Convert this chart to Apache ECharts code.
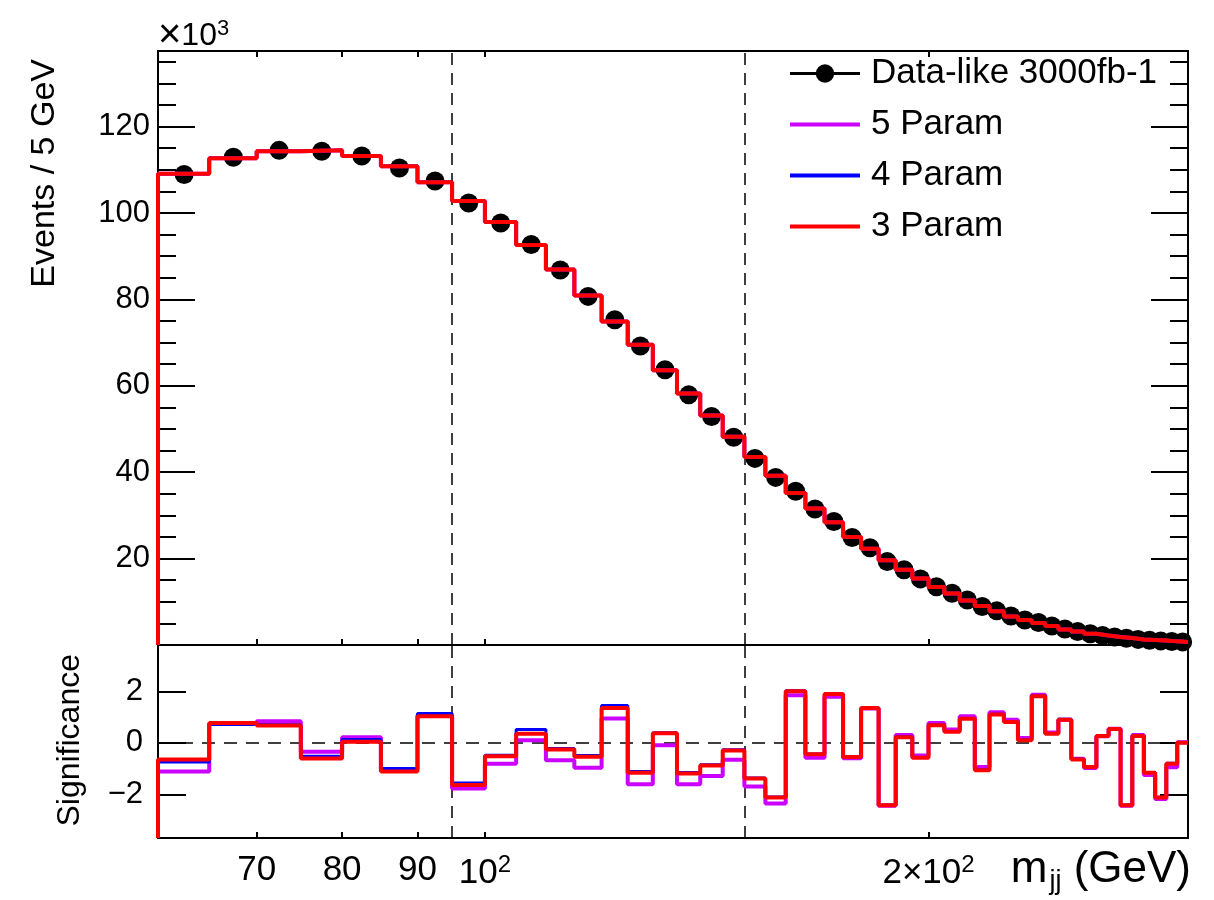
<!DOCTYPE html>
<html>
<head>
<meta charset="utf-8">
<script src="https://cdn.jsdelivr.net/npm/echarts@6/dist/echarts.min.js"></script>
<style>
  html, body { margin: 0; padding: 0; background: #fff; }
  #chart { width: 1214px; height: 900px; }
</style>
</head>
<body>
<div id="chart"></div>
<script>
// Dijet invariant mass spectrum (5 GeV bins) with three background fits
// and the bin-by-bin significance of data with respect to each fit.

const binEdges = [60, 65, 70, 75, 80, 85, 90, 95, 100, 105, 110, 115, 120, 125, 130, 135, 140, 145,
  150, 155, 160, 165, 170, 175, 180, 185, 190, 195, 200, 205, 210, 215, 220, 225, 230, 235, 240,
  245, 250, 255, 260, 265, 270, 275, 280, 285, 290, 295, 300];

// Events per bin, in units of 10^3
const dataEvents = [108.9, 112.9, 114.5, 114.3, 113.2, 110.4, 107.4, 102.3, 97.7, 92.7,
  86.8, 80.7, 75.3, 69.2, 63.7, 57.9, 52.9, 48.1, 43.2, 38.8,
  35.6, 31.5, 28.6, 24.9, 22.5, 19.3, 17.4, 15.3, 13.5, 12.0,
  10.4, 8.9, 7.9, 6.7, 5.8, 5.2, 4.4, 3.7, 3.1, 2.6,
  2.2, 1.85, 1.55, 1.3, 1.1, 0.95, 0.82, 0.72];

// Fitted background per bin (the three fits coincide at this scale)
const fitEvents = [109.1, 112.7, 114.3, 114.5, 113.2, 110.8, 107.1, 102.8, 97.9, 92.6,
  86.9, 80.9, 74.9, 69.5, 63.6, 58.2, 53.1, 48.2, 43.5, 39.2,
  35.2, 31.6, 28.4, 25.0, 22.3, 19.6, 17.4, 15.4, 13.4, 11.9,
  10.3, 9.0, 7.8, 6.6, 5.8, 5.1, 4.4, 3.6, 3.1, 2.6,
  2.2, 1.84, 1.6, 1.29, 1.14, 1.02, 0.84, 0.72];

// Significance of data vs each fit
const sig5 = [-1.12, 0.74, 0.84, -0.35, 0.22, -1.03, 1.07, -1.78, -0.81, 0.10,
  -0.68, -0.97, 0.94, -1.61, -0.10, -1.61, -1.29, -0.66, -1.70, -2.36,
  1.85, -0.58, 1.79, -0.60, 1.33, -2.45, 0.30, -0.49, 0.77, 0.52,
  1.03, -0.94, 1.19, 0.90, 0.19, 1.87, 0.40, 0.90, -0.62, -0.98,
  0.25, 0.55, -2.45, 0.30, -1.25, -2.18, -0.95, 0.02];
const sig4 = [-0.75, 0.71, 0.70, -0.52, 0.13, -1.00, 1.14, -1.56, -0.48, 0.52,
  -0.22, -0.49, 1.45, -1.12, 0.39, -1.15, -0.85, -0.27, -1.37, -2.11,
  2.02, -0.44, 1.91, -0.54, 1.36, -2.42, 0.23, -0.57, 0.69, 0.44,
  0.94, -1.06, 1.11, 0.82, 0.11, 1.82, 0.36, 0.91, -0.64, -0.93,
  0.27, 0.55, -2.42, 0.27, -1.15, -2.12, -0.80, 0.01];
const sig3 = [-0.65, 0.77, 0.67, -0.61, 0.04, -1.12, 1.03, -1.64, -0.52, 0.35,
  -0.26, -0.54, 1.35, -1.16, 0.37, -1.19, -0.88, -0.30, -1.39, -2.13,
  2.00, -0.45, 1.90, -0.55, 1.35, -2.43, 0.22, -0.58, 0.68, 0.43,
  0.93, -1.07, 1.10, 0.81, 0.10, 1.81, 0.35, 0.90, -0.65, -0.94,
  0.26, 0.54, -2.43, 0.26, -1.16, -2.13, -0.81, 0.00];

// Axis ranges and ticks
const massMin = 60, massMax = 300;
const eventsMin = 0, eventsMax = 137.5;
const sigMin = -3.7, sigMax = 3.8;
const massTicks = [70, 80, 90, 100, 200];
const eventsMajor = [0, 20, 40, 60, 80, 100, 120];
const eventsMinor = [5, 10, 15, 25, 30, 35, 45, 50, 55, 65, 70, 75, 85, 90, 95, 105, 110, 115, 125, 130, 135];
const eventsLabels = [20, 40, 60, 80, 100, 120];
const sigTicks = [-2, 0, 2];
const windowEdges = [95, 150];

const FONT = 'Liberation Sans, Arial, Helvetica, sans-serif';
const BLACK = '#000';

// Histogram outline: rises from the axis floor, then one flat segment per bin
function histOutline(values, floor) {
  const pts = [[binEdges[0], floor]];
  values.forEach((v, i) => {
    pts.push([binEdges[i], v]);
    pts.push([binEdges[i + 1], v]);
  });
  return pts;
}
const centers = dataEvents.map((_, i) => (binEdges[i] + binEdges[i + 1]) / 2);

const axisLine = { show: true, onZero: false, lineStyle: { color: BLACK, width: 2 } };

function massAxis(grid, position, withLabels) {
  return {
    type: 'log', logBase: 10, gridIndex: grid, position: position,
    min: massMin, max: massMax,
    axisLine: axisLine,
    axisTick: { show: true, inside: true, length: 6, customValues: massTicks, lineStyle: { color: BLACK, width: 2 } },
    axisLabel: withLabels ? {
      show: true, customValues: massTicks, margin: 15, color: BLACK, fontFamily: FONT, fontSize: 35,
      formatter: function (v) {
        const r = Math.round(v);
        if (r === 100) return '{n|10}{s|2}';
        if (r === 200) return '{n|2\u00d710}{s|2}';
        return '{n|' + r + '}';
      },
      rich: {
        n: { fontSize: 35, fontFamily: FONT, color: BLACK },
        s: { fontSize: 24, fontFamily: FONT, color: BLACK, padding: [0, 0, 16, 0] }
      }
    } : { show: false },
    splitLine: { show: false }, minorTick: { show: false }
  };
}

function valueAxis(grid, position, min, max, ticks, len, labels, margin) {
  return {
    type: 'value', gridIndex: grid, position: position, min: min, max: max,
    axisLine: axisLine,
    axisTick: { show: true, inside: true, length: len, customValues: ticks, lineStyle: { color: BLACK, width: 2 } },
    axisLabel: labels ? {
      show: true, customValues: labels, margin: margin, color: BLACK, fontFamily: FONT, fontSize: 31,
      formatter: v => (v < 0 ? '\u2212' + Math.abs(v) : String(v))
    } : { show: false },
    splitLine: { show: false }
  };
}

const dashed = (dash) => ({ color: BLACK, width: 1.5, type: dash });

const fitStyles = [
  { name: '5 Param', color: '#cc00ff', width: 4, sig: sig5 },
  { name: '4 Param', color: '#0000ff', width: 3, sig: sig4 },
  { name: '3 Param', color: '#ff0000', width: 4, sig: sig3 }
];

const series = [];
series.push({
  name: 'Data-like 3000fb-1', type: 'line', xAxisIndex: 0, yAxisIndex: 0,
  data: centers.map((c, i) => [c, dataEvents[i]]),
  symbol: 'circle', symbolSize: 19, showSymbol: true,
  itemStyle: { color: BLACK }, lineStyle: { color: BLACK, width: 3, opacity: 0 },
  z: 2,
  markLine: {
    silent: true, symbol: ['none', 'none'], label: { show: false },
    lineStyle: dashed([12, 8]), data: windowEdges.map(m => ({ xAxis: m }))
  }
});
fitStyles.forEach((f, k) => {
  series.push({
    name: f.name, type: 'line', xAxisIndex: 0, yAxisIndex: 0,
    data: histOutline(fitEvents, eventsMin), symbol: 'none', color: f.color,
    lineStyle: { color: f.color, width: f.width }, z: 3 + k
  });
});
fitStyles.forEach((f, k) => {
  const s = {
    name: f.name, type: 'line', xAxisIndex: 2, yAxisIndex: 4,
    data: histOutline(f.sig, sigMin), symbol: 'none', color: f.color,
    lineStyle: { color: f.color, width: f.width }, z: 3 + k
  };
  if (k === 0) {
    s.markLine = {
      silent: true, symbol: ['none', 'none'], label: { show: false }, z: 1,
      data: windowEdges.map(m => ({ xAxis: m, lineStyle: dashed([12, 8]) }))
        .concat([{ yAxis: 0, lineStyle: dashed([13, 9]) }])
    };
  }
  series.push(s);
});

const option = {
  animation: false,
  backgroundColor: '#fff',
  grid: [
    { left: 158, top: 51, width: 1030, height: 594 },
    { left: 158, top: 645, width: 1030, height: 193 }
  ],
  xAxis: [
    massAxis(0, 'bottom', false),
    massAxis(0, 'top', false),
    massAxis(1, 'bottom', true),
    Object.assign(massAxis(1, 'top', false), { axisTick: { show: false } })
  ],
  yAxis: [
    valueAxis(0, 'left', eventsMin, eventsMax, eventsMajor, 37, eventsLabels, 8),
    valueAxis(0, 'left', eventsMin, eventsMax, eventsMinor, 18, null),
    valueAxis(0, 'right', eventsMin, eventsMax, eventsMajor, 37, null),
    valueAxis(0, 'right', eventsMin, eventsMax, eventsMinor, 18, null),
    valueAxis(1, 'left', sigMin, sigMax, sigTicks, 28, sigTicks, 15),
    valueAxis(1, 'right', sigMin, sigMax, sigTicks, 28, null)
  ],
  legend: {
    orient: 'vertical', left: 783, top: 49, itemWidth: 70, itemHeight: 23, itemGap: 12,
    selectedMode: false,
    textStyle: { fontSize: 35, fontFamily: FONT, color: BLACK, lineHeight: 39, padding: [0, 0, 0, 6] },
    data: [
      { name: 'Data-like 3000fb-1', lineStyle: { opacity: 1, width: 3, color: BLACK } },
      { name: '5 Param', itemStyle: { opacity: 0 }, lineStyle: { width: 4 } },
      { name: '4 Param', itemStyle: { opacity: 0 }, lineStyle: { width: 4 } },
      { name: '3 Param', itemStyle: { opacity: 0 }, lineStyle: { width: 4 } }
    ]
  },
  graphic: [
    {
      type: 'text', x: 45, y: 59, rotation: Math.PI / 2,
      style: { text: 'Events / 5 GeV', fontSize: 34, fontFamily: FONT, fill: BLACK, align: 'right', verticalAlign: 'middle' }
    },
    {
      type: 'text', x: 70, y: 654, rotation: Math.PI / 2,
      style: { text: 'Significance', fontSize: 32, fontFamily: FONT, fill: BLACK, align: 'right', verticalAlign: 'middle' }
    },
    {
      type: 'text', x: 158, y: 56,
      style: {
        text: '{x|\u00d7}{a|10}{b|3}', align: 'left', verticalAlign: 'bottom', fill: BLACK,
        rich: {
          x: { fontSize: 40, fontFamily: FONT, fill: BLACK },
          a: { fontSize: 32, fontFamily: FONT, fill: BLACK },
          b: { fontSize: 22, fontFamily: FONT, fill: BLACK, padding: [0, 0, 15, 0] }
        }
      }
    },
    {
      type: 'text', x: 1191, y: 870,
      style: {
        text: '{m|m}{j|jj}{m| (GeV)}', align: 'right', verticalAlign: 'middle', fill: BLACK,
        rich: {
          m: { fontSize: 44, fontFamily: FONT, fill: BLACK },
          j: { fontSize: 27, fontFamily: FONT, fill: BLACK, padding: [24, 0, 0, 2] }
        }
      }
    }
  ],
  series: series
};

const chart = echarts.init(document.getElementById('chart'), null, { renderer: 'canvas' });
chart.setOption(option);
</script>
</body>
</html>
